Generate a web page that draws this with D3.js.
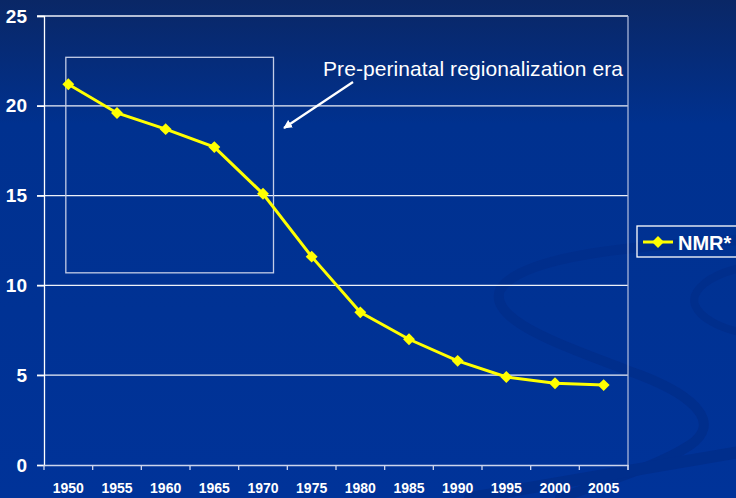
<!DOCTYPE html>
<html>
<head>
<meta charset="utf-8">
<script src="https://cdn.jsdelivr.net/npm/d3@7"></script>
<style>
  body { margin: 0; background: #003399; }
  svg { display: block; font-family: "Liberation Sans", Arial, sans-serif; }
</style>
</head>
<body>
<div id="chart"></div>
<script>
const years = ["1950","1955","1960","1965","1970","1975","1980","1985","1990","1995","2000","2005"];
const nmr = [21.2, 19.6, 18.7, 17.7, 15.1, 11.6, 8.5, 7.0, 5.8, 4.9, 4.55, 4.45];
const yTicks = [0, 5, 10, 15, 20, 25];
const seriesName = "NMR*";
const noteText = "Pre-perinatal regionalization era";

const W = 736, H = 498;
const plotLeft = 44, plotRight = 628, plotTop = 16, plotBottom = 465;

const svg = d3.select("#chart").append("svg").attr("width", W).attr("height", H);

// background
const defs = svg.append("defs");
const grad = defs.append("linearGradient").attr("id", "bg").attr("x1", 0).attr("y1", 0).attr("x2", 0).attr("y2", 1);
grad.append("stop").attr("offset", "0").attr("stop-color", "#0a2766");
grad.append("stop").attr("offset", "0.25").attr("stop-color", "#00318f");
grad.append("stop").attr("offset", "1").attr("stop-color", "#003399");
svg.append("rect").attr("width", W).attr("height", H).attr("fill", "url(#bg)");

// swirl decoration (faint)
const swirl = svg.append("g").attr("fill", "none").attr("stroke", "#002e8c").attr("stroke-linecap", "round");
swirl.append("path").attr("stroke-width", 10)
  .attr("d", "M740,240 C640,245 520,255 500,290 C488,320 560,345 640,375 C700,398 720,425 690,445 C660,465 610,480 560,498");
swirl.append("path").attr("stroke-width", 8)
  .attr("d", "M740,268 C710,275 690,290 695,305 C700,318 720,328 740,332");
swirl.append("path").attr("stroke-width", 12)
  .attr("d", "M470,498 C560,482 650,468 740,452");

const x = d3.scaleBand().domain(years).range([plotLeft, plotRight]);
const y = d3.scaleLinear().domain([0, 25]).range([plotBottom, plotTop]);

// gridlines
svg.append("g").selectAll("line").data(yTicks.filter(d => d > 0)).join("line")
  .attr("x1", plotLeft - 7).attr("x2", plotRight)
  .attr("y1", d => y(d)).attr("y2", d => y(d))
  .attr("stroke", "#eef1f8").attr("stroke-width", 1.3);

// right border
svg.append("line").attr("x1", plotRight).attr("x2", plotRight).attr("y1", plotTop).attr("y2", plotBottom + 5)
  .attr("stroke", "#a9b6d9").attr("stroke-width", 1.3);

// y axis
const yAxis = svg.append("g").attr("transform", `translate(${plotLeft},0)`)
  .call(d3.axisLeft(y).tickValues(yTicks).tickSize(7).tickPadding(10));
yAxis.select(".domain").attr("stroke", "#ffffff").attr("stroke-width", 1.3);
yAxis.selectAll(".tick line").attr("stroke", "#ffffff").attr("stroke-width", 1.3);
yAxis.selectAll("text").attr("fill", "#ffffff").attr("font-size", 19).attr("font-weight", "bold")
  .attr("font-family", "Liberation Sans, Arial, sans-serif");

// x axis with ticks at band boundaries
const xAxis = svg.append("g").attr("transform", `translate(0,${plotBottom})`)
  .call(d3.axisBottom(x).tickSize(0).tickPadding(18));
xAxis.select(".domain").attr("stroke", "#cdd5ec").attr("stroke-width", 1.6);
xAxis.selectAll("text").attr("fill", "#ffffff").attr("font-size", 14).attr("font-weight", "bold")
  .attr("font-family", "Liberation Sans, Arial, sans-serif");
xAxis.append("g").selectAll("line").data(years.concat(["end"])).join("line")
  .attr("x1", (d, i) => plotLeft + i * x.step()).attr("x2", (d, i) => plotLeft + i * x.step())
  .attr("y1", 0).attr("y2", 5).attr("stroke", "#cdd5ec").attr("stroke-width", 1.3);

// annotation box and text
const cx = d => x(d) + x.bandwidth() / 2;
svg.append("rect")
  .attr("x", cx("1950") - 2.5).attr("y", y(22.7))
  .attr("width", cx("1970") + 10.5 - (cx("1950") - 2.5)).attr("height", y(10.7) - y(22.7))
  .attr("fill", "none").attr("stroke", "#c3cce6").attr("stroke-width", 1.3);

svg.append("text").attr("x", 323).attr("y", 76).text(noteText)
  .attr("fill", "#ffffff").attr("font-size", 21).attr("textLength", 300);

defs.append("marker").attr("id", "arr").attr("viewBox", "0 0 10 10").attr("refX", 9).attr("refY", 5)
  .attr("markerWidth", 4).attr("markerHeight", 4).attr("orient", "auto")
  .append("path").attr("d", "M0,0 L10,5 L0,10 z").attr("fill", "#ffffff");
svg.append("line").attr("x1", 353).attr("y1", 82).attr("x2", 284).attr("y2", 128)
  .attr("stroke", "#ffffff").attr("stroke-width", 2.2).attr("marker-end", "url(#arr)");

// series line
const line = d3.line().x((d, i) => cx(years[i])).y(d => y(d));
svg.append("path").datum(nmr).attr("d", line)
  .attr("fill", "none").attr("stroke", "#ffff00").attr("stroke-width", 3);

const diamond = d3.symbol().type(d3.symbolDiamond2).size(90);
svg.append("g").selectAll("path").data(nmr).join("path")
  .attr("d", diamond)
  .attr("transform", (d, i) => `translate(${cx(years[i])},${y(d)})`)
  .attr("fill", "#ffff00");

// legend
const lg = svg.append("g").attr("transform", "translate(637,226)");
lg.append("rect").attr("width", 110).attr("height", 31)
  .attr("fill", "none").attr("stroke", "#ffffff").attr("stroke-width", 1.3);
lg.append("line").attr("x1", 6).attr("x2", 36).attr("y1", 16).attr("y2", 16)
  .attr("stroke", "#ffff00").attr("stroke-width", 3);
lg.append("path").attr("d", diamond).attr("transform", "translate(21,16)").attr("fill", "#ffff00");
lg.append("text").attr("x", 41).attr("y", 23.5).text(seriesName)
  .attr("fill", "#ffffff").attr("font-size", 20).attr("font-weight", "bold");
</script>
</body>
</html>
